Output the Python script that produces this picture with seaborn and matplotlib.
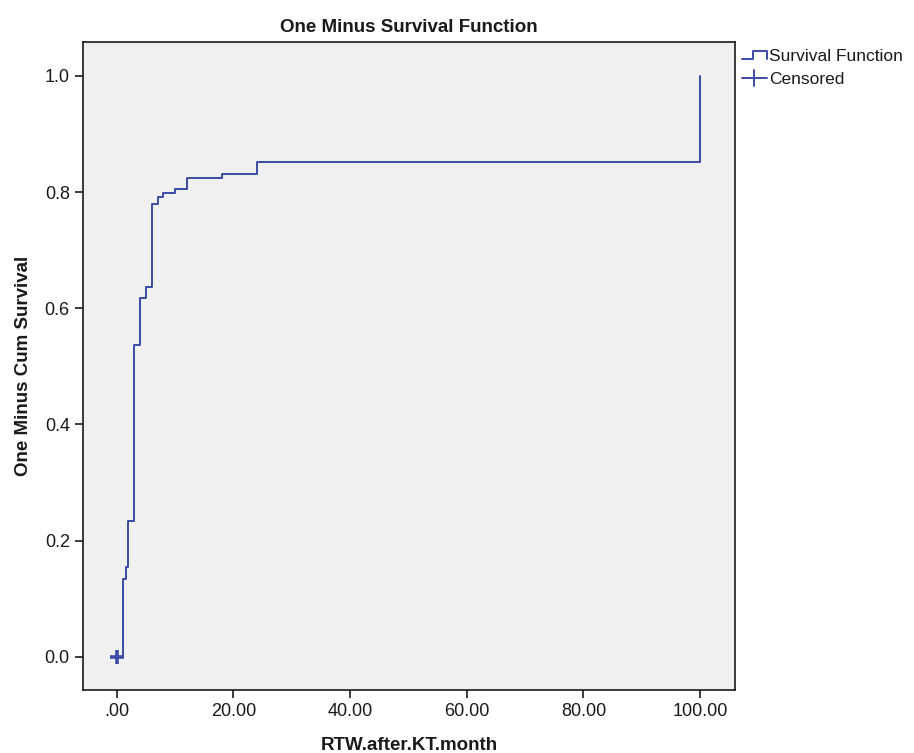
import matplotlib
matplotlib.use("Agg")
import matplotlib.pyplot as plt
import seaborn as sns
import pandas as pd
from matplotlib.legend_handler import HandlerBase
from matplotlib.lines import Line2D

# ---- data ----
times = [0, 1.0, 1.5, 2.0, 3.0, 4.0, 5.0, 6.0, 7.0, 8.0, 10.0, 12.0, 18.0, 24.0, 100.0]
one_minus_surv = [0.0, 0.134, 0.155, 0.234, 0.537, 0.618, 0.637, 0.780, 0.792,
                  0.799, 0.806, 0.825, 0.832, 0.852, 1.0]
censored_times = [0.0]
censored_values = [0.0]
x_ticks = [0, 20, 40, 60, 80, 100]
x_tick_labels = [".00", "20.00", "40.00", "60.00", "80.00", "100.00"]
y_ticks = [0.0, 0.2, 0.4, 0.6, 0.8, 1.0]
y_tick_labels = ["0.0", "0.2", "0.4", "0.6", "0.8", "1.0"]

sns.set_style("ticks")
plt.rcParams['font.family'] = ['Liberation Sans', 'DejaVu Sans']

color = "#3b4ba6"
txt = "#1a1a1a"
df = pd.DataFrame({"t": times, "v": one_minus_surv})
cdf = pd.DataFrame({"t": censored_times, "v": censored_values})

fig = plt.figure(figsize=(9.14, 7.53), dpi=100)
ax = fig.add_axes([0.0908, 0.0837, 0.7134, 0.8606])
ax.set_facecolor("#f0f0f0")

sns.lineplot(data=df, x="t", y="v", drawstyle="steps-post", color=color,
             linewidth=1.4, ax=ax, estimator=None, sort=False)
sns.scatterplot(data=cdf, x="t", y="v", marker="+", s=110, color=color,
                linewidth=2.6, ax=ax, zorder=5)

ax.set_xlim(-5.8, 106.0)
ax.set_ylim(-0.057, 1.0585)
ax.set_xticks(x_ticks)
ax.set_xticklabels(x_tick_labels)
ax.set_yticks(y_ticks)
ax.set_yticklabels(y_tick_labels)
ax.tick_params(axis="both", direction="out", length=6, width=1.2, labelsize=13,
               color=txt, labelcolor=txt)
for s in ax.spines.values():
    s.set_color(txt)
    s.set_linewidth(1.2)

ax.set_xlabel("RTW.after.KT.month", fontsize=13.5, fontweight="bold", labelpad=12, color=txt)
ax.set_ylabel("One Minus Cum Survival", fontsize=13.5, fontweight="bold", labelpad=9, color=txt)
ax.set_title("One Minus Survival Function", fontsize=13.5, fontweight="bold", pad=7, color=txt)


class StepHandler(HandlerBase):
    def create_artists(self, legend, orig_handle, xdescent, ydescent, width, height,
                       fontsize, trans):
        x0, x1 = -xdescent, -xdescent + width
        ylo, yhi = -ydescent + 0.1 * height, -ydescent + 0.8 * height
        xm = x0 + 0.45 * width
        line = Line2D([x0, xm, xm, x1, x1], [ylo, ylo, yhi, yhi, ylo],
                      color=color, linewidth=1.4, transform=trans)
        return [line]


class CrossHandler(HandlerBase):
    def create_artists(self, legend, orig_handle, xdescent, ydescent, width, height,
                       fontsize, trans):
        x0, x1 = -xdescent, -xdescent + width
        ym = -ydescent + height / 2
        xm = x0 + width / 2
        h = Line2D([x0, x1], [ym, ym], color=color, linewidth=1.4, transform=trans)
        v = Line2D([xm, xm], [ym - 0.65 * height, ym + 0.65 * height], color=color,
                   linewidth=1.4, transform=trans)
        return [h, v]


h1 = Line2D([], [])
h2 = Line2D([], [], marker="+")
leg = ax.legend([h1, h2], ["Survival Function", "Censored"],
                handler_map={h1: StepHandler(), h2: CrossHandler()},
                loc="upper left", bbox_to_anchor=(1.010, 0.99), frameon=False,
                fontsize=12.5, handlelength=1.45, handletextpad=0.15,
                labelspacing=0.5, borderaxespad=0.0, borderpad=0.0)
for t in leg.get_texts():
    t.set_color(txt)

fig.savefig("out.png", dpi=100)
